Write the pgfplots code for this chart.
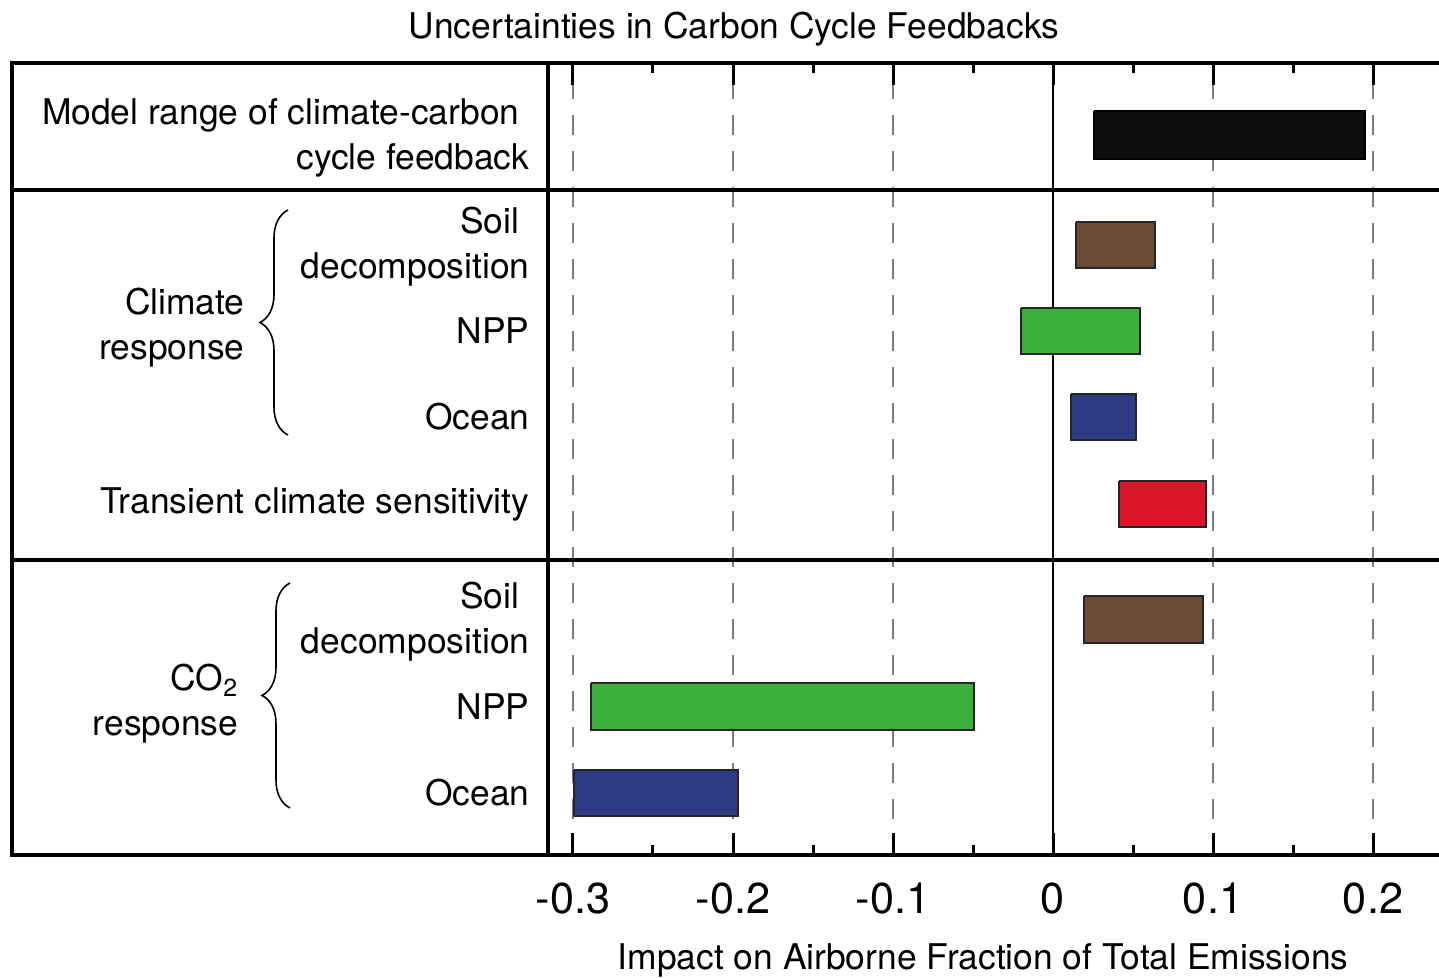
\documentclass[border=0pt]{standalone}
\usepackage{fontspec}
\setmainfont{TeX Gyre Heros}
\usepackage{pgfplots}
\pgfplotsset{compat=1.18}
\usetikzlibrary{decorations.pathreplacing}
\definecolor{barblack}{HTML}{0C0E0D}
\definecolor{soilbrown}{HTML}{6B4A38}
\definecolor{nppgreen}{HTML}{3BB13A}
\definecolor{oceanblue}{HTML}{2E3A84}
\definecolor{tcsred}{HTML}{DC1428}
\definecolor{gridgray}{HTML}{7A7A7A}
\newcommand{\lblfont}{\fontsize{17.7}{22.5}\selectfont}
\begin{document}
\begin{tikzpicture}
\begin{axis}[
  scale only axis, width=448.5pt, height=396pt,
  xmin=-0.315625, xmax=0.245, ymin=123, ymax=915,
  clip=false,
  axis line style={line width=1.6pt},
  xtick={-0.3,-0.2,-0.1,0,0.1,0.2},
  xticklabels={-0.3,-0.2,-0.1,0,0.1,0.2},
  minor xtick={-0.25,-0.15,-0.05,0.05,0.15},
  ytick=\empty,
  tick align=inside,
  xtick pos=both,
  major tick length=11pt, minor tick length=5pt,
  every tick/.style={line width=1.5pt, black},
  xmajorgrids,
  major grid style={gridgray, line width=1pt, dash pattern=on 10pt off 8pt},
  xticklabel style={font=\fontsize{21.6}{26}\selectfont, yshift=-10.5pt},
  xlabel={Impact on Airborne Fraction of Total Emissions},
  xlabel style={at={(axis description cs:0.485,0)}, anchor=base, yshift=-57pt, font=\lblfont},
]
% zero line
\addplot[black, line width=1pt] coordinates {(0,123) (0,915)};
% bars (x from lo to hi, y = vertical extent)
\addplot[fill=barblack, draw=black, line width=0.8pt, line join=miter] coordinates {(0.0256,867) (0.195,867) (0.195,819) (0.0256,819) (0.0256,867)};
\addplot[fill=soilbrown, draw=black!85, line width=0.8pt, line join=miter] coordinates {(0.0144,756) (0.0638,756) (0.0638,710) (0.0144,710) (0.0144,756)};
\addplot[fill=nppgreen, draw=black!85, line width=0.8pt, line join=miter] coordinates {(-0.020,670) (0.0544,670) (0.0544,624) (-0.020,624) (-0.020,670)};
\addplot[fill=oceanblue, draw=black!85, line width=0.8pt, line join=miter] coordinates {(0.0113,584) (0.0519,584) (0.0519,538) (0.0113,538) (0.0113,584)};
\addplot[fill=tcsred, draw=black!85, line width=0.8pt, line join=miter] coordinates {(0.0413,497) (0.0956,497) (0.0956,451) (0.0413,451) (0.0413,497)};
\addplot[fill=soilbrown, draw=black!85, line width=0.8pt, line join=miter] coordinates {(0.0194,382) (0.0938,382) (0.0938,335) (0.0194,335) (0.0194,382)};
\addplot[fill=nppgreen, draw=black!85, line width=0.8pt, line join=miter] coordinates {(-0.2888,295) (-0.0494,295) (-0.0494,248) (-0.2888,248) (-0.2888,295)};
\addplot[fill=oceanblue, draw=black!85, line width=0.8pt, line join=miter] coordinates {(-0.2994,208) (-0.1969,208) (-0.1969,162) (-0.2994,162) (-0.2994,208)};
% frame and separators
\draw[line width=1.6pt, line join=miter] (axis cs:0.26,915) -- (axis cs:-0.650625,915) -- (axis cs:-0.650625,123) -- (axis cs:0.26,123);
\draw[line width=1.6pt] (axis cs:-0.650625,788) -- (axis cs:0.26,788);
\draw[line width=1.6pt] (axis cs:-0.650625,418) -- (axis cs:0.26,418);
% row labels
\node[anchor=east, align=right, inner sep=0pt, font=\lblfont] at (axis cs:-0.327,840) {Model range of climate-carbon\kern5pt\\cycle feedback};
\node[anchor=east, align=right, inner sep=0pt, font=\lblfont] at (axis cs:-0.327,731) {Soil\kern5pt\\decomposition};
\node[anchor=east, align=right, inner sep=0pt, font=\lblfont] at (axis cs:-0.327,647) {NPP};
\node[anchor=east, align=right, inner sep=0pt, font=\lblfont] at (axis cs:-0.327,561) {Ocean};
\node[anchor=east, align=right, inner sep=0pt, font=\lblfont] at (axis cs:-0.327,474) {Transient climate sensitivity};
\node[anchor=east, align=right, inner sep=0pt, font=\lblfont] at (axis cs:-0.327,356.5) {Soil\kern5pt\\decomposition};
\node[anchor=east, align=right, inner sep=0pt, font=\lblfont] at (axis cs:-0.327,271.5) {NPP};
\node[anchor=east, align=right, inner sep=0pt, font=\lblfont] at (axis cs:-0.327,185) {Ocean};
% group labels and braces
\node[anchor=east, align=right, inner sep=0pt, font=\lblfont] at (axis cs:-0.505,650) {Climate\\response};
\node[anchor=east, align=right, inner sep=0pt, font=\lblfont] at (axis cs:-0.509,274) {CO\textsubscript{2}\\response};
\draw[line width=0.8pt, decorate, decoration={brace, amplitude=14pt}] (axis cs:-0.478125,543) -- (axis cs:-0.478125,768);
\draw[line width=0.8pt, decorate, decoration={brace, amplitude=14pt}] (axis cs:-0.476875,170) -- (axis cs:-0.476875,395);
% title
\node[anchor=base, inner sep=0pt, font=\lblfont] at (axis cs:-0.199375,939) {Uncertainties in Carbon Cycle Feedbacks};
% bounding box corners
\coordinate (bbA) at (axis cs:-0.658125,0);
\coordinate (bbB) at (axis cs:0.24125,978);
\end{axis}
\pgfresetboundingbox
\path[use as bounding box] (bbA) rectangle (bbB);
\end{tikzpicture}
\end{document}
